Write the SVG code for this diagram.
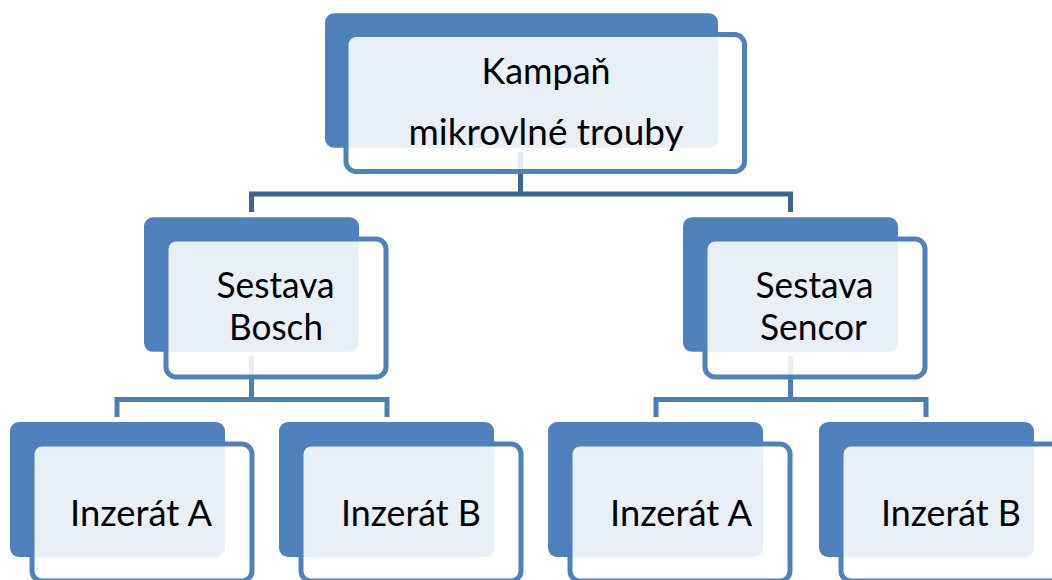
<svg xmlns="http://www.w3.org/2000/svg" width="1052" height="580" viewBox="0 0 1052 580">
  <style>
    .back { fill: #4F81BD; }
    .front { fill: #FFFFFF; fill-opacity: 0.87; stroke: #4F81BD; stroke-width: 5; }
    .lbl { font-family: Lato, "Open Sans", "Liberation Sans", sans-serif; fill: #000000; text-anchor: middle; font-size: 36.5px; }
    .c1 { fill: none; stroke: #3C6596; stroke-width: 5; }
    .c2 { fill: none; stroke: #4A7EBB; stroke-width: 5; }
  </style>
  <rect width="1052" height="580" fill="#FFFFFF"/>
  <g id="connectors">
    <path class="c1" d="M520.5 152 V194 M251.5 194 H790.5 M251.5 191.5 V212 M790.5 191.5 V212"/>
    <path class="c2" d="M251.5 356 V399.5 M117 399.5 H387 M117 397 V417 M387 397 V417"/>
    <path class="c2" d="M790.5 356 V399.5 M656 399.5 H926 M656 397 V417 M926 397 V417"/>
  </g>
  <g id="node-kampan">
    <rect class="back" x="325" y="13.3" width="393" height="134.4" rx="9"/>
    <rect class="front" x="346" y="34.5" width="398.5" height="137" rx="10"/>
    <text class="lbl" x="546" y="84" textLength="129" lengthAdjust="spacingAndGlyphs">Kampaň</text>
    <text class="lbl" x="546" y="145" textLength="275" lengthAdjust="spacingAndGlyphs">mikrovlné trouby</text>
  </g>
  <g id="node-bosch">
    <rect class="back" x="144" y="217.3" width="215" height="134.5" rx="9"/>
    <rect class="front" x="166" y="239" width="220" height="138" rx="10"/>
    <text class="lbl" x="275.5" y="298" textLength="118" lengthAdjust="spacingAndGlyphs">Sestava</text>
    <text class="lbl" x="276" y="340" textLength="94" lengthAdjust="spacingAndGlyphs">Bosch</text>
  </g>
  <g id="node-sencor">
    <rect class="back" x="683" y="217.3" width="215" height="134.5" rx="9"/>
    <rect class="front" x="705" y="239" width="220" height="138" rx="10"/>
    <text class="lbl" x="814.5" y="298" textLength="118" lengthAdjust="spacingAndGlyphs">Sestava</text>
    <text class="lbl" x="813.5" y="340" textLength="107" lengthAdjust="spacingAndGlyphs">Sencor</text>
  </g>
  <g id="node-bosch-a">
    <rect class="back" x="10" y="422" width="215" height="135" rx="9"/>
    <rect class="front" x="32" y="444" width="220" height="137" rx="10"/>
    <text class="lbl" x="141" y="526" textLength="142" lengthAdjust="spacingAndGlyphs">Inzerát A</text>
  </g>
  <g id="node-bosch-b">
    <rect class="back" x="279" y="422" width="215" height="135" rx="9"/>
    <rect class="front" x="301" y="444" width="220" height="137" rx="10"/>
    <text class="lbl" x="411" y="526" textLength="140" lengthAdjust="spacingAndGlyphs">Inzerát B</text>
  </g>
  <g id="node-sencor-a">
    <rect class="back" x="548" y="422" width="215" height="135" rx="9"/>
    <rect class="front" x="570" y="444" width="220" height="137" rx="10"/>
    <text class="lbl" x="681" y="526" textLength="142" lengthAdjust="spacingAndGlyphs">Inzerát A</text>
  </g>
  <g id="node-sencor-b">
    <rect class="back" x="819" y="422" width="215" height="135" rx="9"/>
    <rect class="front" x="841" y="444" width="220" height="137" rx="10"/>
    <text class="lbl" x="951" y="526" textLength="140" lengthAdjust="spacingAndGlyphs">Inzerát B</text>
  </g>
</svg>
